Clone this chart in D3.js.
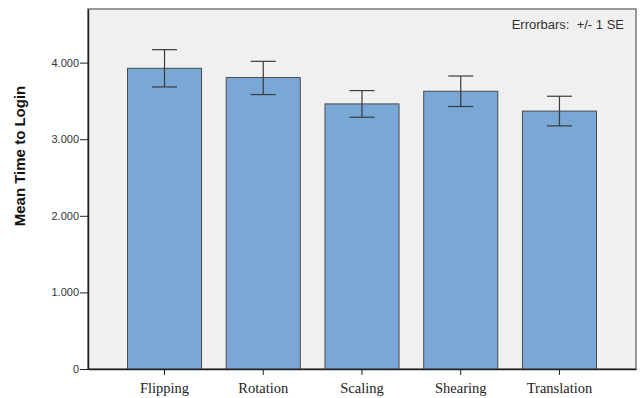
<!DOCTYPE html>
<html>
<head>
<meta charset="utf-8">
<script src="https://cdn.jsdelivr.net/npm/d3@7/dist/d3.min.js"></script>
<style>
  body { margin: 0; background: #fff; }
</style>
</head>
<body>
<div id="chart"></div>
<script>
// Data
const categories = ["Flipping", "Rotation", "Scaling", "Shearing", "Translation"];
const means = [3.926, 3.805, 3.461, 3.626, 3.367];
const upper = [4.169, 4.017, 3.635, 3.825, 3.561];
const lower = [3.682, 3.583, 3.287, 3.427, 3.174];
const yTicks = [0, 1, 2, 3, 4];

const svgWidth = 641, svgHeight = 398;
const plotLeft = 88, plotRight = 636, plotTop = 9, plotBottom = 369;

let svg = d3.select("#chart")
    .append("svg")
    .attr("width", svgWidth)
    .attr("height", svgHeight);

// plot background
svg.append("rect")
    .attr("x", plotLeft)
    .attr("y", plotTop)
    .attr("width", plotRight - plotLeft)
    .attr("height", plotBottom - plotTop)
    .attr("fill", "#f0f0f0")
    .attr("stroke", "#7a7a7a")
    .attr("stroke-width", 1.5);

let x = d3.scaleBand()
    .domain(categories)
    .range([plotLeft, plotRight])
    .paddingInner(0.25)
    .paddingOuter(0.4);

let y = d3.scaleLinear()
    .domain([0, 4.7])
    .range([plotBottom, plotTop]);

// bars
svg.append("g")
    .selectAll("rect")
    .data(categories)
    .enter()
    .append("rect")
        .attr("x", d => x(d))
        .attr("y", (d, i) => y(means[i]))
        .attr("width", x.bandwidth())
        .attr("height", (d, i) => y(0) - y(means[i]))
        .attr("fill", "#79a8d6")
        .attr("stroke", "#4a4a4a")
        .attr("stroke-width", 1);

// error bars
let capHalf = 12.5;
let err = svg.append("g")
    .attr("stroke", "#3a3a3a")
    .attr("stroke-width", 1.2);
categories.forEach((c, i) => {
    let cx = x(c) + x.bandwidth() / 2;
    err.append("line")
        .attr("x1", cx).attr("x2", cx)
        .attr("y1", y(upper[i])).attr("y2", y(lower[i]));
    err.append("line")
        .attr("x1", cx - capHalf).attr("x2", cx + capHalf)
        .attr("y1", y(upper[i])).attr("y2", y(upper[i]));
    err.append("line")
        .attr("x1", cx - capHalf).attr("x2", cx + capHalf)
        .attr("y1", y(lower[i])).attr("y2", y(lower[i]));
});

// y axis
let yAxis = d3.axisLeft(y)
    .tickValues(yTicks)
    .tickSize(8)
    .tickSizeOuter(0)
    .tickFormat(d => d === 0 ? "0" : d + ".000");
let gy = svg.append("g")
    .attr("transform", `translate(${plotLeft},0)`)
    .call(yAxis);
gy.select(".domain").attr("stroke", "#222").attr("stroke-width", 1.5);
gy.selectAll(".tick line").attr("stroke", "#222");
gy.selectAll(".tick text")
    .attr("fill", "#333")
    .attr("x", -9)
    .style("font-family", "Liberation Sans, Arial, sans-serif")
    .style("font-size", "11px");

// x axis
let xAxis = d3.axisBottom(x).tickSize(6).tickSizeOuter(0);
let gx = svg.append("g")
    .attr("transform", `translate(0,${plotBottom})`)
    .call(xAxis);
gx.select(".domain").attr("stroke", "#222").attr("stroke-width", 1.5);
gx.selectAll(".tick line").attr("stroke", "#222");
gx.selectAll(".tick text")
    .attr("fill", "#222")
    .attr("y", 14)
    .style("font-family", "Liberation Serif, Times New Roman, serif")
    .style("font-size", "14.5px");

// y title
svg.append("text")
    .attr("transform", "translate(25,156) rotate(-90)")
    .attr("text-anchor", "middle")
    .style("font-family", "Liberation Sans, Arial, sans-serif")
    .style("font-size", "15px")
    .style("font-weight", "bold")
    .attr("fill", "#111")
    .text("Mean Time to Login");

// note
svg.append("text")
    .attr("x", 624)
    .attr("y", 29)
    .attr("text-anchor", "end")
    .style("font-family", "Liberation Sans, Arial, sans-serif")
    .style("font-size", "13px")
    .style("white-space", "pre")
    .attr("fill", "#333")
    .text("Errorbars:  +/- 1 SE");
</script>
</body>
</html>
